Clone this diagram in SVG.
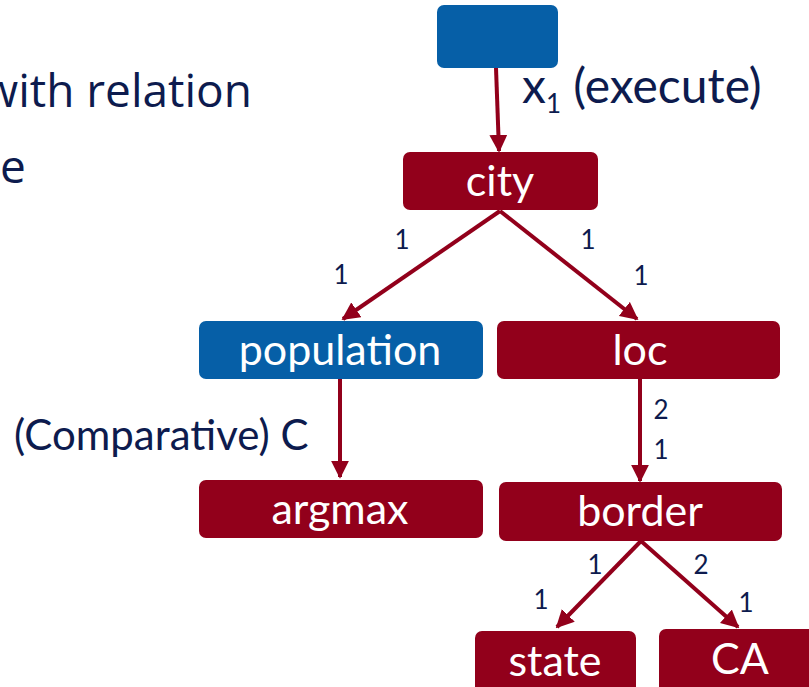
<svg xmlns="http://www.w3.org/2000/svg" width="809" height="687" viewBox="0 0 809 687">
<style>
.red{fill:#92001B}
.blue{fill:#065FA7}
.nt{font-family:Lato,"Open Sans",sans-serif;font-size:43px;fill:#fff;text-anchor:middle}
.lbl{font-family:Lato,"Open Sans",sans-serif;font-size:26px;fill:#0D1B4E;text-anchor:middle}
.big{font-family:Lato,"Open Sans",sans-serif;font-size:42px;fill:#0D1B4E}
.cal{font-family:"Open Sans",Lato,sans-serif;font-size:46px;fill:#0D1B4E}
.edge{stroke:#92001B;stroke-width:4;fill:none;marker-end:url(#ah)}
</style>
<defs>
<marker id="ah" viewBox="0 0 10 10" refX="9" refY="5" markerWidth="4.5" markerHeight="4.5" orient="auto" markerUnits="strokeWidth">
<path d="M0,0 L10,5 L0,10 z" fill="#92001B"/>
</marker>
</defs>
<text class="cal" x="252" y="107" text-anchor="end">with relation</text>
<text class="cal" x="0" y="183">e</text>
<text class="big" x="522" y="103" style="font-size:48px">x<tspan style="font-size:26px" dy="10">1</tspan><tspan dy="-10"> (execute)</tspan></text>
<text class="big" x="14" y="450">(Comparative) C</text>
<g id="connectors">
<line class="edge" x1="496" y1="68" x2="499" y2="151"/>
<line class="edge" x1="500" y1="211" x2="343" y2="319"/>
<line class="edge" x1="500" y1="211" x2="637" y2="319"/>
<line class="edge" x1="340" y1="379" x2="340" y2="477"/>
<line class="edge" x1="640" y1="379" x2="640" y2="481"/>
<line class="edge" x1="641" y1="541" x2="557" y2="627"/>
<line class="edge" x1="641" y1="541" x2="738" y2="627"/>
</g>
<g id="labels">
<text class="lbl" x="402" y="249">1</text>
<text class="lbl" x="341" y="284">1</text>
<text class="lbl" x="588" y="249">1</text>
<text class="lbl" x="641" y="285">1</text>
<text class="lbl" x="661" y="419">2</text>
<text class="lbl" x="661" y="459">1</text>
<text class="lbl" x="595" y="574">1</text>
<text class="lbl" x="701" y="574">2</text>
<text class="lbl" x="541" y="609">1</text>
<text class="lbl" x="746" y="612">1</text>
</g>
<g id="root"><rect class="blue" x="437" y="5" width="121" height="63" rx="7"/></g>
<g id="city"><rect class="red" x="403" y="152" width="195" height="58" rx="7"/><text class="nt" x="500" y="196">city</text></g>
<g id="population"><rect class="blue" x="199" y="321" width="284" height="58" rx="7"/><text class="nt" x="340" y="365">population</text></g>
<g id="loc"><rect class="red" x="497" y="321" width="283" height="58" rx="7"/><text class="nt" x="640" y="365">loc</text></g>
<g id="argmax"><rect class="red" x="199" y="480" width="284" height="58" rx="7"/><text class="nt" x="340" y="524">argmax</text></g>
<g id="border"><rect class="red" x="499" y="482" width="283" height="59" rx="7"/><text class="nt" x="640" y="526">border</text></g>
<g id="state"><rect class="red" x="475" y="631" width="161" height="70" rx="7"/><text class="nt" x="555" y="676">state</text></g>
<g id="CA"><rect class="red" x="659" y="629" width="170" height="70" rx="7"/><text class="nt" x="740" y="674">CA</text></g>
</svg>
